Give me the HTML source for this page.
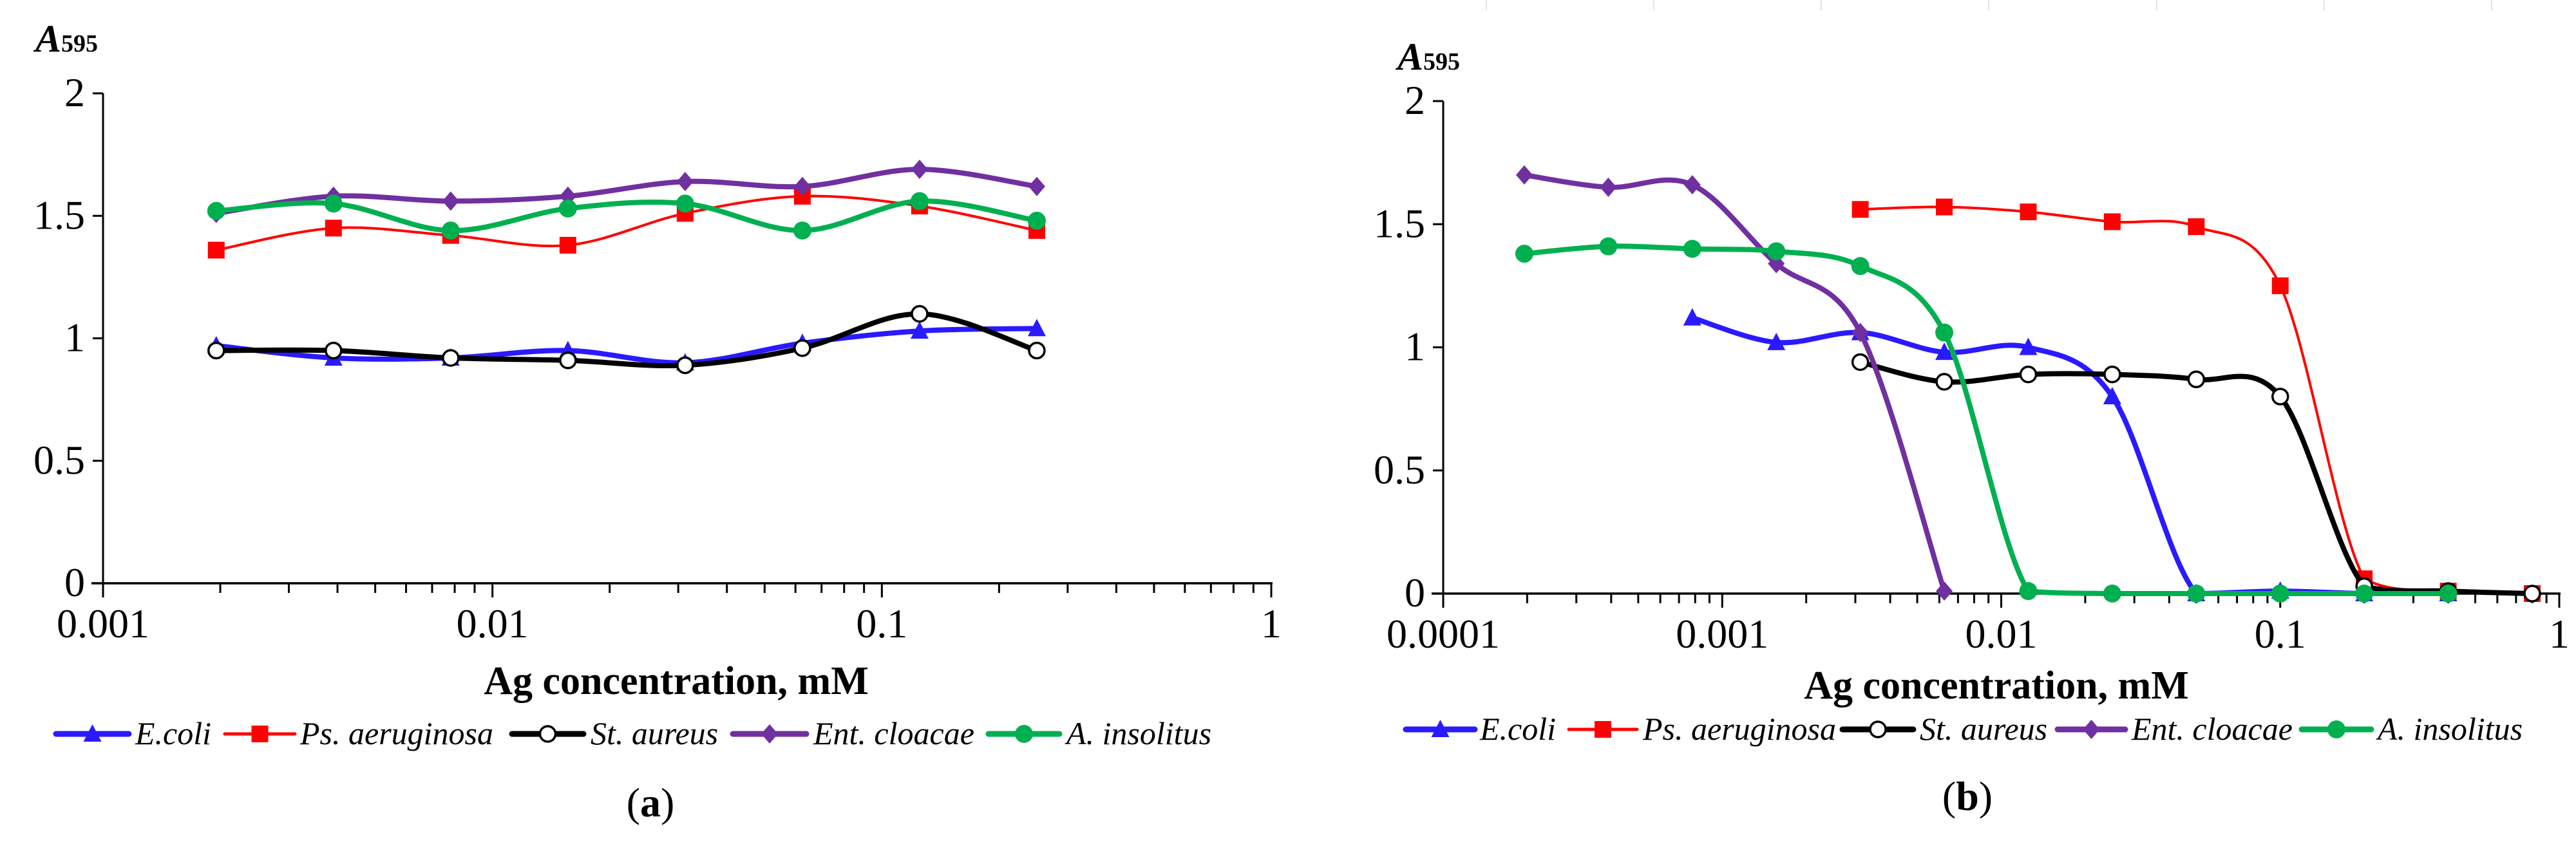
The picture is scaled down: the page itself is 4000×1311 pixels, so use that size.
<!DOCTYPE html>
<html><head><meta charset="utf-8"><style>
html,body{margin:0;padding:0;background:#fff;}
svg{display:block;}
text{font-family:"Liberation Serif","DejaVu Serif",serif;}
</style></head><body>
<svg id="s" width="4000" height="1311" viewBox="0 0 4000 1311" xmlns="http://www.w3.org/2000/svg" font-family="Liberation Serif, DejaVu Serif, serif"></svg>
<script>
// ---- data panel (a)
const xA = [0.001953125,0.00390625,0.0078125,0.015625,0.03125,0.0625,0.125,0.25];
const aEcoli = [0.97,0.92,0.92,0.95,0.90,0.98,1.03,1.04];
const aPs = [1.36,1.45,1.42,1.38,1.51,1.58,1.54,1.44];
const aSt = [0.95,0.95,0.92,0.91,0.89,0.96,1.10,0.95];
const aEnt = [1.51,1.58,1.56,1.58,1.64,1.62,1.69,1.62];
const aIns = [1.52,1.55,1.44,1.53,1.55,1.44,1.56,1.48];
// ---- data panel (b)
const xB = [0.0001953,0.000390625,0.00078125,0.0015625,0.003125,0.00625,0.0125,0.025,0.05,0.1,0.2,0.4,0.8];
const bEcoli = [null,null,1.12,1.02,1.06,0.98,1.00,0.80,0.00,0.01,0.00,0.00,null];
const bPs = [null,null,null,null,1.56,1.57,1.55,1.51,1.49,1.25,0.06,0.01,0.00];
const bSt = [null,null,null,null,0.94,0.86,0.89,0.89,0.87,0.80,0.03,0.01,0.00];
const bEnt = [1.70,1.65,1.66,1.34,1.06,0.01,null,null,null,null,null,null,null];
const bIns = [1.38,1.41,1.40,1.39,1.33,1.06,0.01,0.00,0.00,0.00,0.00,0.00,null];
const yTicks = [0,0.5,1,1.5,2];
const yTickLabels = ["0","0.5","1","1.5","2"];
const seriesNames = ["E.coli","Ps. aeruginosa","St. aureus","Ent. cloacae","A. insolitus"];

const NS="http://www.w3.org/2000/svg";
const svg=document.getElementById('s');
const FF='Liberation Serif, DejaVu Serif, serif';
function mk(tag,attrs,parent){const e=document.createElementNS(NS,tag);for(const k in attrs)e.setAttribute(k,attrs[k]);if(tag==='text')e.setAttribute('font-family',FF);(parent||svg).appendChild(e);return e;}

const styles=[
 {c:'#2a1aff',w:8,m:'tri'},
 {c:'#ff0000',w:4,m:'sq'},
 {c:'#000000',w:8,m:'circ'},
 {c:'#7030a0',w:8,m:'dia'},
 {c:'#00b050',w:8,m:'dot'}];

function marker(g,type,x,y,c){
 let e;
 if(type==='tri') e=mk('polygon',{points:`${x},${y-15} ${x+14},${y+12} ${x-14},${y+12}`,fill:c},g);
 else if(type==='sq') e=mk('rect',{x:x-13,y:y-13,width:26,height:26,fill:c},g);
 else if(type==='circ') e=mk('circle',{cx:x,cy:y,r:12,fill:'#fff',stroke:'#000','stroke-width':3.5},g);
 else if(type==='dia') e=mk('polygon',{points:`${x},${y-15} ${x+13},${y} ${x},${y+15} ${x-13},${y}`,fill:c},g);
 else e=mk('circle',{cx:x,cy:y,r:14,fill:c},g);
 
 
}

function smoothPath(pts,ymax){
 if(pts.length<2)return '';
 let d=`M${pts[0][0]},${pts[0][1]}`;
 const k=1/6;
 for(let i=0;i<pts.length-1;i++){
  const p0=pts[i-1]||pts[i],p1=pts[i],p2=pts[i+1],p3=pts[i+2]||p2;
  const c1=[p1[0]+(p2[0]-p0[0])*k,Math.min(ymax,p1[1]+(p2[1]-p0[1])*k)];
  const c2=[p2[0]-(p3[0]-p1[0])*k,Math.min(ymax,p2[1]-(p3[1]-p1[1])*k)];
  d+=` C${c1[0]},${c1[1]} ${c2[0]},${c2[1]} ${p2[0]},${p2[1]}`;
 }
 return d;
}

function panel(cfg){
 const g=mk('g',{});
 
 
 const X=v=>cfg.x0+(Math.log10(v)-cfg.lmin)*(cfg.x1-cfg.x0)/(cfg.lmax-cfg.lmin);
 const Y=v=>cfg.y0-(v/2)*(cfg.y0-cfg.y2);
 const ya=mk('line',{x1:cfg.x0,y1:cfg.y2,x2:cfg.x0,y2:cfg.y0,stroke:'#000','stroke-width':3},g);
 
 const xa=mk('line',{x1:cfg.x0-18,y1:cfg.y0,x2:cfg.x1+2,y2:cfg.y0,stroke:'#000','stroke-width':3.5},g);
 
 yTicks.forEach((v,i)=>{
  mk('line',{x1:cfg.x0-16,y1:Y(v),x2:cfg.x0,y2:Y(v),stroke:'#000','stroke-width':3},g);
  const t=mk('text',{x:cfg.x0-28,y:Y(v)+20,'font-size':64,'text-anchor':'end'},g);
  t.textContent=yTickLabels[i];
  
 });
 for(let d=cfg.lmin;d<=cfg.lmax;d++){
  mk('line',{x1:X(10**d),y1:cfg.y0,x2:X(10**d),y2:cfg.y0+22,stroke:'#000','stroke-width':3},g);
  const t=mk('text',{x:X(10**d),y:cfg.y0+84,'font-size':64,'text-anchor':'middle'},g);
  t.textContent=String(+(10**d).toFixed(6));
  
  if(d<cfg.lmax)for(let m=2;m<10;m++){
   const xx=X(m*10**d);
   mk('line',{x1:xx,y1:cfg.y0,x2:xx,y2:cfg.y0+15,stroke:'#000','stroke-width':3},g);
  }
 }
 const yt=mk('text',{x:cfg.ytx,y:cfg.yty,'font-size':60,'font-weight':'bold','font-style':'italic'},g);
 yt.innerHTML='A<tspan font-size="38" font-style="normal">595</tspan>';
 
 const xt=mk('text',{x:cfg.xtx,y:cfg.xty,'font-size':62,'font-weight':'bold','text-anchor':'middle'},g);
 xt.textContent='Ag concentration, mM';
 
 cfg.series.forEach((arr,si)=>{
  const st=styles[si];
  const sg=mk('g',{},g);
  
  
  const pts=[];
  arr.forEach((v,i)=>{if(v!==null)pts.push([X(cfg.xs[i]),Y(v)]);});
  const p=mk('path',{d:smoothPath(pts,cfg.y0),fill:'none',stroke:st.c,'stroke-width':st.w,'stroke-linejoin':'round','stroke-linecap':'round'},sg);
  
  pts.forEach(q=>marker(sg,st.m,q[0],q[1],st.c));
 });
 cfg.legend.forEach((L,si)=>{
  const st=styles[si];
  const lg=mk('g',{},g);
  
  mk('line',{x1:L[0],y1:cfg.ly,x2:L[1],y2:cfg.ly,stroke:st.c,'stroke-width':st.w===4?5:9,'stroke-linecap':'round'},lg);
  marker(lg,st.m,(L[0]+L[1])/2,cfg.ly,st.c);
  const t=mk('text',{x:L[2],y:cfg.ly+16,'font-size':50,'font-style':'italic'},lg);
  t.textContent=seriesNames[si];
 });
 const lab=mk('text',{x:cfg.labx,y:cfg.laby,'font-size':64,'text-anchor':'middle'},g);
 lab.innerHTML='(<tspan font-weight="bold">'+cfg.lab+'</tspan>)';
 
}

panel({name:'chart-a',x0:160,x1:1974,lmin:-3,lmax:0,y0:906,y2:145,xs:xA,
 series:[aEcoli,aPs,aSt,aEnt,aIns],ytx:55,yty:80,xtx:1050,xty:1078,ly:1140,
 legend:[[87,200,210],[349,458,466],[795,906,917],[1138,1252,1263],[1535,1645,1656]],
 labx:1010,laby:1268,lab:'a'});
panel({name:'chart-b',x0:2241,x1:3974,lmin:-4,lmax:0,y0:922,y2:157,xs:xB,
 series:[bEcoli,bPs,bSt,bEnt,bIns],ytx:2170,yty:108,xtx:3100,xty:1085,ly:1133,
 legend:[[2183,2290,2298],[2436,2542,2551],[2861,2971,2981],[3195,3300,3310],[3574,3682,3692]],
 labx:3055,laby:1258,lab:'b'});
[2308,2568,2828,3088,3349,3609,3869].forEach(x=>{
 const l=mk('line',{x1:x,y1:0,x2:x,y2:16,stroke:'#e4e4e4','stroke-width':2});
 
});
</script>
</body></html>
